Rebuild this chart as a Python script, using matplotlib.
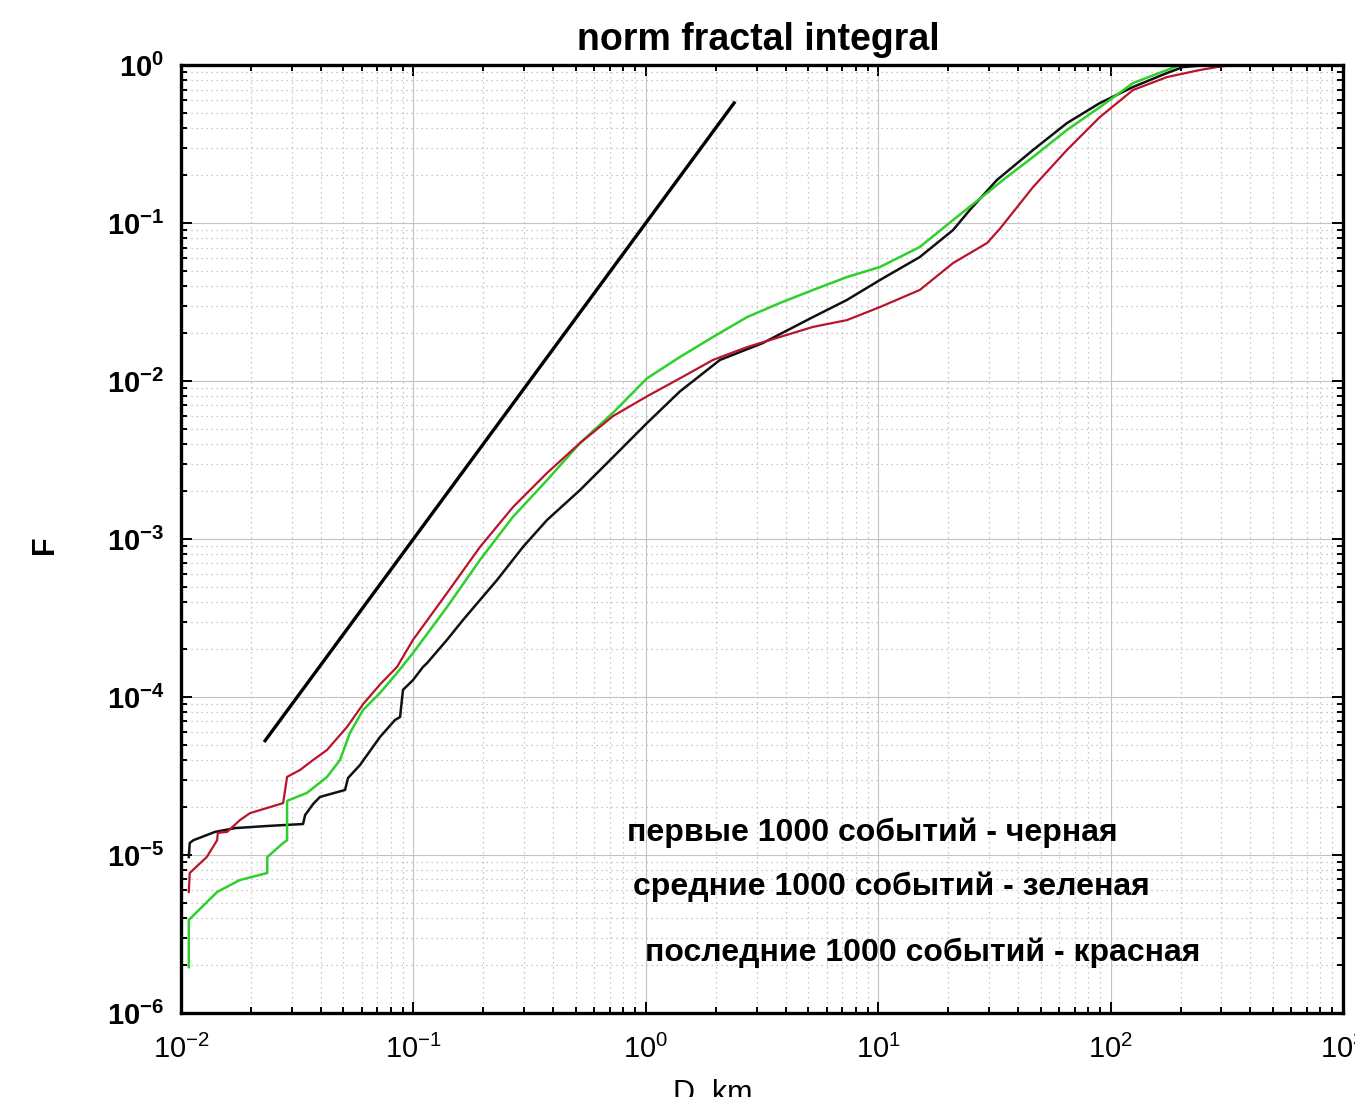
import matplotlib

matplotlib.use("Agg")

import matplotlib.pyplot as plt
import numpy as np
from matplotlib.ticker import LogLocator, NullFormatter

plt.rcParams["font.family"] = ["Liberation Sans", "DejaVu Sans"]
plt.rcParams["mathtext.default"] = "regular"

# distance D (km) and normalised correlation integral F for the three event windows
black_d = [0.0108, 0.0109, 0.0113, 0.0140, 0.0171, 0.0242, 0.0335, 0.0342, 0.0370, 0.0396,
           0.0508, 0.0523, 0.0589, 0.0718, 0.0833, 0.0876, 0.0902, 0.0996, 0.110, 0.1145,
           0.1395, 0.1634, 0.1934, 0.229, 0.296, 0.376, 0.521, 0.723, 1.012, 1.403,
           2.086, 3.19, 5.24, 7.34, 10.18, 15.1, 21.0, 24.8, 32.4, 46.4,
           64.9, 90.0, 124.9, 174.8, 205, 260, 485]
black_f = [9.7e-6, 1.19e-5, 1.24e-5, 1.40e-5, 1.48e-5, 1.53e-5, 1.57e-5, 1.79e-5, 2.10e-5, 2.33e-5,
           2.58e-5, 3.07e-5, 3.71e-5, 5.58e-5, 7.15e-5, 7.47e-5, 1.11e-4, 1.28e-4, 1.55e-4, 1.64e-4,
           2.30e-4, 3.07e-4, 4.11e-4, 5.50e-4, 8.9e-4, 1.32e-3, 2.04e-3, 3.30e-3, 5.42e-3, 8.6e-3,
           0.0136, 0.0174, 0.0254, 0.0326, 0.0436, 0.0609, 0.0903, 0.121, 0.187, 0.290,
           0.429, 0.575, 0.726, 0.890, 0.971, 1.0, 1.0]

green_d = [0.0108, 0.0108, 0.0143, 0.0179, 0.0235, 0.0235, 0.0275, 0.0286, 0.0286, 0.0348,
           0.0425, 0.0483, 0.0533, 0.0607, 0.0718, 0.0850, 0.0996, 0.1395, 0.1934, 0.268,
           0.376, 0.521, 0.723, 1.012, 1.403, 1.946, 2.73, 3.78, 5.24, 7.34,
           10.18, 15.1, 21.0, 29.4, 34.4, 46.4, 64.9, 90.0, 124.9, 174.8,
           199, 220]
green_f = [1.95e-6, 3.88e-6, 5.83e-6, 6.94e-6, 7.69e-6, 9.7e-6, 1.19e-5, 1.24e-5, 2.2e-5, 2.47e-5,
           3.12e-5, 3.99e-5, 5.92e-5, 8.27e-5, 1.06e-4, 1.42e-4, 1.90e-4, 3.71e-4, 7.37e-4, 1.38e-3,
           2.36e-3, 4.05e-3, 6.3e-3, 0.0104, 0.0142, 0.0190, 0.0254, 0.0312, 0.0377, 0.0455,
           0.0527, 0.0705, 0.1045, 0.155, 0.187, 0.262, 0.388, 0.542, 0.769, 0.930,
           1.0, 1.0]

red_d = [0.0108, 0.0109, 0.0129, 0.0143, 0.0144, 0.0158, 0.0179, 0.0198, 0.0275, 0.0286,
         0.0325, 0.0370, 0.0425, 0.0451, 0.0518, 0.0607, 0.0718, 0.0850, 0.0996, 0.1395,
         0.1934, 0.268, 0.376, 0.521, 0.723, 1.012, 1.403, 1.946, 2.73, 3.78,
         5.24, 7.34, 10.18, 15.1, 21.0, 29.4, 33.4, 46.4, 64.9, 90.0,
         124.9, 174.8, 242, 287, 336, 485]
red_f = [5.83e-6, 7.69e-6, 9.7e-6, 1.24e-5, 1.38e-5, 1.40e-5, 1.66e-5, 1.84e-5, 2.13e-5, 3.12e-5,
         3.45e-5, 3.99e-5, 4.62e-5, 5.12e-5, 6.46e-5, 9.0e-5, 1.2e-4, 1.55e-4, 2.30e-4, 4.55e-4,
         8.9e-4, 1.59e-3, 2.62e-3, 4.05e-3, 6.0e-3, 8.0e-3, 0.0104, 0.0136, 0.0164, 0.0190,
         0.0220, 0.0243, 0.0294, 0.0377, 0.0558, 0.0747, 0.092, 0.169, 0.290, 0.469,
         0.695, 0.839, 0.930, 0.971, 1.0, 1.0]

# reference slope: F = 0.1 * D^2
slope_d = [0.023, 2.4]
slope_coef = 0.1
slope_power = 2

labels = [
    "первые 1000 событий - черная",
    "средние 1000 событий - зеленая",
    "последние 1000 событий - красная",
]

fig = plt.figure(figsize=(13.55, 10.97), dpi=100, facecolor="white")
ax = fig.add_axes([0.1336, 0.0766, 0.8575, 0.8641])
ax.set_xscale("log")
ax.set_yscale("log")
ax.set_xlim(1e-2, 1e3)
ax.set_ylim(1e-6, 1e0)

ax.grid(True, which="major", color="#c4c4c4", linestyle="-", linewidth=0.8)
ax.grid(True, which="minor", color="#b8b8b8", linestyle=(0, (1, 3)), linewidth=0.9)
ax.set_axisbelow(True)

sd = np.array(slope_d)
ax.plot(sd, slope_coef * sd ** slope_power, color="black", linewidth=2.4)

ax.plot(black_d, black_f, color="#111111", linewidth=1.8)
ax.plot(green_d, green_f, color="#2ed02e", linewidth=1.8)
ax.plot(red_d, red_f, color="#b8142c", linewidth=1.6)

ax.xaxis.set_major_locator(LogLocator(base=10, numticks=10))
ax.yaxis.set_major_locator(LogLocator(base=10, numticks=10))
ax.xaxis.set_minor_locator(LogLocator(base=10, subs=np.arange(2, 10), numticks=20))
ax.yaxis.set_minor_locator(LogLocator(base=10, subs=np.arange(2, 10), numticks=20))
ax.xaxis.set_minor_formatter(NullFormatter())
ax.yaxis.set_minor_formatter(NullFormatter())

ax.tick_params(which="both", direction="in", top=True, right=True, width=1.4)
ax.tick_params(which="major", length=8)
ax.tick_params(which="minor", length=4)
ax.tick_params(axis="x", which="major", labelsize=21, pad=16)
ax.tick_params(axis="y", which="major", labelsize=21, pad=12)
for lbl in ax.get_yticklabels():
    lbl.set_fontweight("bold")
for spine in ax.spines.values():
    spine.set_linewidth(2.4)

ax.set_xlabel("D, km", fontsize=22, va="top")
ax.xaxis.set_label_coords(0.458, -0.070)
ax.set_ylabel("F", fontsize=22, fontweight="bold")
ax.yaxis.set_label_coords(-0.104, 0.494)

fig.text(0.5594, 0.9635, "norm fractal integral", ha="center", va="center",
         fontsize=27, fontweight="bold")

for (tx, ty), text in zip([(0.384, 0.190), (0.389, 0.133), (0.399, 0.064)], labels):
    ax.text(tx, ty, text, transform=ax.transAxes, ha="left", va="center",
            fontsize=23, fontweight="bold")

fig.savefig("out.png", dpi=100)
